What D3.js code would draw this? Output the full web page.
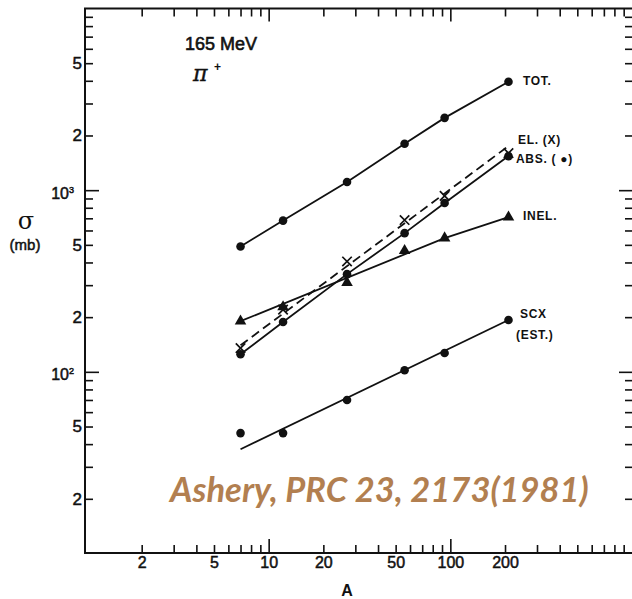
<!DOCTYPE html>
<html><head><meta charset="utf-8">
<script src="https://cdn.jsdelivr.net/npm/d3@7"></script>
<style>body{margin:0;background:#fff}svg{display:block}</style>
</head><body>
<script>
// ---- data ----
const massNumbers = [7, 12, 27, 56, 93, 209];
const totValues   = [490, 680, 1110, 1800, 2500, 3950];
const elValues    = [135, 220, 405, 685, 930, 1600];
const absValues   = [125, 188, 345, 580, 850, 1540];
const inelValues  = [190, 228, 310, 465, 545, 710];
const scxValues   = [46, 46, 70, 102, 127, 193];
// drawn curves (A, sigma)
const elFitLine   = [[7, 140], [209, 1750]];
const inelLine    = [[7, 190], [93, 545], [209, 710]];
const scxFitLine  = [[7, 37.5], [209, 193]];
// ticks
const xTickLabels = [2, 5, 10, 20, 50, 100, 200];
const xMajorTicks = [10, 100];
const yMinorLabels = [20, 50, 200, 500, 2000, 5000];
const yMajorTicks = [100, 1000];
const seriesNames = ["TOT.", "EL. (X)", "ABS. ( \u25CF)", "INEL.", "SCX", "(EST.)"];

const W = 632, H = 599;
const svg = d3.select("body").append("svg").attr("width", W).attr("height", H);

const x = d3.scaleLog().domain([1, 1000]).range([87, 632]);
const y = d3.scaleLog().domain([10, 10000]).range([553.5, 8.5]);

const frame = {l: 85, r: 633, t: 8.5, b: 553};

function minorTicks(lo, hi) {
  const t = [];
  for (let d = lo; d < hi; d *= 10) for (let k = 2; k <= 9; k++) t.push(k * d);
  return t;
}
const xMinor = minorTicks(1, 1000);
const yMinor = minorTicks(10, 10000);

const font = "'Liberation Sans', Arial, sans-serif";
function heavy(sel, w) {
  return sel.attr("stroke", "#111").attr("stroke-width", w == null ? 0.5 : w).attr("paint-order", "stroke");
}
function styleAxis(g, fs) {
  g.select(".domain").remove();
  g.selectAll(".tick line").attr("stroke", "#111").attr("stroke-width", 1.6);
  g.selectAll(".tick text").attr("fill", "#111").style("font-family", font).style("font-size", fs + "px")
    .call(s => heavy(s));
}

// left axis
svg.append("g").attr("transform", `translate(${frame.l},0)`)
  .call(d3.axisLeft(y).tickValues(yMinor).tickSize(-8).tickPadding(3)
    .tickFormat(d => yMinorLabels.includes(d) ? String(Math.round(d / Math.pow(10, Math.floor(Math.log10(d) + 1e-9)))) : ""))
  .call(g => styleAxis(g, 17));
const yMaj = svg.append("g").attr("transform", `translate(${frame.l},0)`)
  .call(d3.axisLeft(y).tickValues(yMajorTicks).tickSize(-14).tickFormat(""))
  .call(g => styleAxis(g, 16));
yMaj.selectAll(".tick").append("text")
  .attr("x", -11).attr("dy", "0.5em").attr("text-anchor", "end")
  .style("font-family", font).style("font-size", "16px").attr("fill", "#111")
  .call(s => heavy(s))
  .each(function(d) {
    const t = d3.select(this);
    t.append("tspan").text("10");
    t.append("tspan").attr("dy", "-0.65em").style("font-size", "9px").text(Math.round(Math.log10(d)));
  });

// right axis
svg.append("g").attr("transform", `translate(${frame.r},0)`)
  .call(d3.axisRight(y).tickValues(yMinor).tickSize(-8).tickFormat(""))
  .call(g => styleAxis(g, 16));
svg.append("g").attr("transform", `translate(${frame.r},0)`)
  .call(d3.axisRight(y).tickValues(yMajorTicks).tickSize(-14).tickFormat(""))
  .call(g => styleAxis(g, 16));

// bottom axis
const bottomMinor = svg.append("g").attr("transform", `translate(0,${frame.b})`)
  .call(d3.axisBottom(x).tickValues(xMinor.filter(v => !xMajorTicks.includes(v))).tickSize(-8).tickPadding(4)
    .tickFormat(d => xTickLabels.includes(d) ? String(d) : ""))
  .call(g => styleAxis(g, 16));
const bottomMajor = svg.append("g").attr("transform", `translate(0,${frame.b})`)
  .call(d3.axisBottom(x).tickValues(xMajorTicks).tickSize(-14).tickPadding(4)
    .tickFormat(d => xTickLabels.includes(d) ? String(d) : ""))
  .call(g => styleAxis(g, 16));
bottomMinor.selectAll(".tick text").attr("y", 4);
bottomMajor.selectAll(".tick text").attr("y", 4);

// top axis
svg.append("g").attr("transform", `translate(0,${frame.t})`)
  .call(d3.axisTop(x).tickValues(xMinor.filter(v => !xMajorTicks.includes(v))).tickSize(-8).tickFormat(""))
  .call(g => styleAxis(g, 15));
svg.append("g").attr("transform", `translate(0,${frame.t})`)
  .call(d3.axisTop(x).tickValues(xMajorTicks).tickSize(-13).tickFormat(""))
  .call(g => styleAxis(g, 15));

// frame
svg.append("path")
  .attr("d", `M${frame.r},${frame.t}H${frame.l}V${frame.b}H${frame.r}`)
  .attr("fill", "none").attr("stroke", "#111").attr("stroke-width", 2);
svg.append("line").attr("x1", frame.r).attr("x2", frame.r).attr("y1", frame.t).attr("y2", frame.b)
  .attr("stroke", "#111").attr("stroke-width", 2);

// lines
const line = d3.line().x(d => x(d[0])).y(d => y(d[1]));
const pairs = vals => massNumbers.map((a, i) => [a, vals[i]]);
function drawLine(pts, dash) {
  svg.append("path").attr("d", line(pts)).attr("fill", "none")
    .attr("stroke", "#111").attr("stroke-width", 1.8)
    .attr("stroke-dasharray", dash || null);
}
drawLine(pairs(totValues));
drawLine(pairs(absValues));
drawLine(elFitLine, "9,5");
drawLine(inelLine);
drawLine(scxFitLine);

// markers
function dots(vals) {
  svg.append("g").selectAll("circle").data(pairs(vals)).join("circle")
    .attr("cx", d => x(d[0])).attr("cy", d => y(d[1])).attr("r", 4.3).attr("fill", "#111");
}
dots(totValues); dots(absValues); dots(scxValues);
svg.append("g").selectAll("path").data(pairs(inelValues)).join("path")
  .attr("transform", d => `translate(${x(d[0])},${y(d[1])})`)
  .attr("d", d3.symbol(d3.symbolTriangle, 58)).attr("fill", "#111");
svg.append("g").selectAll("path").data(pairs(elValues)).join("path")
  .attr("transform", d => `translate(${x(d[0])},${y(d[1])})`)
  .attr("d", d3.symbol(d3.symbolX, 60)).attr("fill", "none").attr("stroke", "#111").attr("stroke-width", 1.7);

// series labels
const labelPos = [[523, 81], [518, 140], [516, 159], [523, 216], [520, 314], [516, 335]];
svg.append("g").selectAll("text").data(seriesNames).join("text")
  .attr("x", (d, i) => labelPos[i][0]).attr("y", (d, i) => labelPos[i][1])
  .attr("dy", "0.36em").text(d => d)
  .style("font-family", font).style("font-size", "12px").style("font-weight", "bold")
  .style("letter-spacing", "0.7px").attr("fill", "#111");

// annotations
svg.append("text").attr("x", 185).attr("y", 50).text("165 MeV")
  .style("font-family", font).style("font-size", "18px").attr("fill", "#111").call(s => heavy(s, 0.6));
svg.append("text").attr("x", 193).attr("y", 81).text("\u03C0")
  .style("font-family", "'DejaVu Serif', serif").style("font-style", "italic")
  .style("font-size", "22px").attr("fill", "#111").call(s => heavy(s, 0.4));
svg.append("text").attr("x", 214).attr("y", 71).text("+")
  .style("font-family", font).style("font-size", "12px").style("font-weight", "bold").attr("fill", "#111");

svg.append("text").attr("x", 26).attr("y", 229).attr("text-anchor", "middle").text("\u03C3")
  .style("font-family", "'DejaVu Serif', serif").style("font-size", "24px").attr("fill", "#111");
svg.append("text").attr("x", 25).attr("y", 250).attr("text-anchor", "middle").text("(mb)")
  .style("font-family", font).style("font-size", "15px").attr("fill", "#111").call(s => heavy(s, 0.5));
svg.append("text").attr("x", 347).attr("y", 596).attr("text-anchor", "middle").text("A")
  .style("font-family", font).style("font-size", "16px").style("font-weight", "bold").attr("fill", "#111");

svg.append("text").attr("x", 170).attr("y", 502).text("Ashery, PRC 23, 2173(1981)")
  .style("font-family", "Lato, 'Open Sans', sans-serif").style("font-style", "italic")
  .style("font-weight", "bold").style("font-size", "34.5px").attr("fill", "#B27F50");
</script>
</body></html>
